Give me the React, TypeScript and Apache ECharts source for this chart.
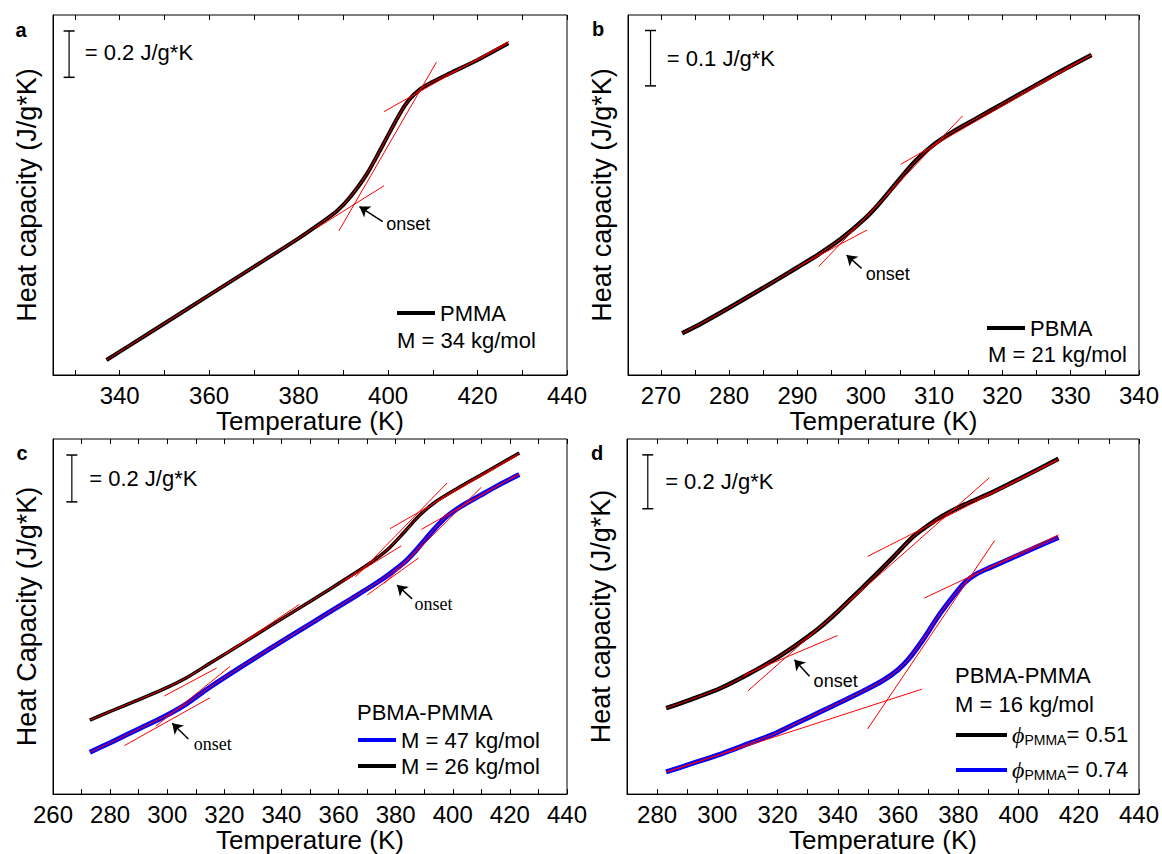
import React, { useEffect, useRef } from 'react';
import * as echarts from 'echarts';

const SANS = '"Liberation Sans", Arial, Helvetica, sans-serif';
const SERIF = '"Liberation Serif", "Times New Roman", serif';

// ---------- Panel a : PMMA, M = 34 kg/mol ----------
const aTemp = [337.06, 346.55, 360.0, 370.08, 380.0, 384.37, 388.57, 391.4, 395.2, 398.9, 402.6, 404.8, 407.06, 409.58, 413.78, 420.0, 426.89];
const aCp = [0.065, 0.18, 0.345, 0.468, 0.59, 0.648, 0.708, 0.765, 0.866, 0.995, 1.127, 1.19, 1.232, 1.262, 1.302, 1.36, 1.432];
const aTangents = [
  [383.9, 0.633, 399.1, 0.817],
  [389.0, 0.622, 410.8, 1.35],
  [399.1, 1.137, 427.0, 1.44],
];
const aArrows = [[398.8, 0.662, 393.6, 0.727]];
const aOnsets = [[399.5, 0.652]];
const aBar = [328.7, 1.285, 1.485];
const aBarLabel = [332.1, 1.393];
const aTicks = [330, 340, 350, 360, 370, 380, 390, 400, 410, 420, 430, 440];
const aLabels = [340, 360, 380, 400, 420, 440];

// ---------- Panel b : PBMA, M = 21 kg/mol ----------
const bTemp = [273.12, 276.13, 279.96, 284.34, 290.09, 293.1, 296.38, 299.67, 301.86, 304.59, 307.33, 310.07, 312.8, 316.09, 319.92, 324.84, 329.22, 333.05];
const bCp = [0.0753, 0.0945, 0.121, 0.1525, 0.195, 0.218, 0.246, 0.28, 0.308, 0.348, 0.387, 0.417, 0.4395, 0.4625, 0.489, 0.523, 0.553, 0.5779];
const bTangents = [
  [290.09, 0.1957, 300.21, 0.2619],
  [293.1, 0.1957, 314.17, 0.4678],
  [305.14, 0.3805, 333.05, 0.5779],
];
const bArrows = [[299.39, 0.1926, 297.2, 0.2167]];
const bOnsets = [[299.94, 0.1818]];
const bBar = [268.5, 0.522, 0.622];
const bBarLabel = [270.8, 0.572];
const bTicks = [270, 275, 280, 285, 290, 295, 300, 305, 310, 315, 320, 325, 330, 335, 340];
const bLabels = [270, 280, 290, 300, 310, 320, 330, 340];

// ---------- Panel c : PBMA-PMMA, M = 47 and 26 kg/mol ----------
const cTemp26 = [272.9, 280.41, 289.63, 298.85, 306.75, 314.65, 325.18, 335.72, 346.25, 355.47, 364.69, 372.59, 377.86, 383.12, 388.39, 393.66, 401.56, 410.78, 418.68, 423.29];
const cCp26 = [0.3154, 0.3548, 0.401, 0.449, 0.497, 0.556, 0.635, 0.715, 0.794, 0.864, 0.935, 1.0, 1.052, 1.12, 1.19, 1.245, 1.305, 1.369, 1.424, 1.456];
const cTemp47 = [272.9, 280.41, 289.63, 298.85, 306.75, 314.65, 325.18, 335.72, 346.25, 355.47, 364.69, 372.59, 377.86, 383.12, 387.07, 392.34, 397.61, 402.88, 409.46, 416.04, 423.29];
const cCp47 = [0.1788, 0.2215, 0.276, 0.33, 0.385, 0.454, 0.538, 0.619, 0.698, 0.767, 0.836, 0.896, 0.94, 0.99, 1.04, 1.115, 1.182, 1.228, 1.274, 1.319, 1.3644];
const cTangents = [
  [299.0, 0.419, 317.3, 0.538],
  [319.9, 0.595, 346.3, 0.81],
  [362.0, 0.91, 382.0, 1.06],
  [366.0, 0.928, 398.0, 1.328],
  [378.0, 1.133, 423.0, 1.448],
  [285.0, 0.207, 315.0, 0.4115],
  [296.0, 0.29, 322.0, 0.545],
  [370.0, 0.85, 388.0, 1.008],
  [376.0, 0.9, 410.0, 1.31],
  [389.0, 1.13, 423.0, 1.366],
];
const cArrows = [
  [307.41, 0.2351, 301.74, 0.3027],
  [385.75, 0.8335, 380.49, 0.8927],
];
const cOnsets = [[309.12, 0.214], [386.41, 0.8096]];
const cBar = [266.6, 1.2476, 1.4476];
const cBarLabel = [272.5, 1.347];
const cTicks = [260, 270, 280, 290, 300, 310, 320, 330, 340, 350, 360, 370, 380, 390, 400, 410, 420, 430, 440];
const cLabels = [260, 280, 300, 320, 340, 360, 380, 400, 420, 440];

// ---------- Panel d : PBMA-PMMA, M = 16 kg/mol ----------
const dTemp51 = [282.98, 291.44, 301.38, 310.08, 318.79, 326.25, 333.71, 339.92, 346.14, 352.35, 358.57, 364.78, 369.76, 374.73, 382.19, 390.89, 400.84, 413.27];
const dCp51 = [0.319, 0.3521, 0.3951, 0.4442, 0.4994, 0.5546, 0.616, 0.6773, 0.7448, 0.8123, 0.882, 0.9534, 0.9963, 1.0331, 1.0761, 1.119, 1.1742, 1.2454];
const dTemp74 = [282.98, 291.44, 301.38, 310.08, 318.79, 326.25, 333.71, 341.17, 348.63, 354.84, 359.81, 363.54, 368.51, 373.49, 378.46, 382.19, 385.92, 390.89, 398.35, 405.81, 413.27];
const dCp74 = [0.0822, 0.1129, 0.1497, 0.1865, 0.2233, 0.263, 0.303, 0.343, 0.384, 0.421, 0.46, 0.502, 0.577, 0.663, 0.737, 0.786, 0.817, 0.843, 0.8797, 0.9166, 0.9534];
const dTangents = [
  [308.8, 0.442, 339.9, 0.589],
  [310.1, 0.383, 390.3, 1.175],
  [349.9, 0.883, 413.0, 1.24],
  [283.0, 0.082, 368.0, 0.39],
  [349.9, 0.242, 392.1, 0.942],
  [368.7, 0.728, 413.3, 0.963],
];
const dArrows = [[330.6, 0.438, 325.6, 0.4994]];
const dOnsets = [[331.8, 0.4196]];
const dBar = [276.9, 1.06, 1.26];
const dBarLabel = [282.5, 1.162];
const dTicks = [280, 290, 300, 310, 320, 330, 340, 350, 360, 370, 380, 390, 400, 410, 420, 430, 440];
const dLabels = [280, 300, 320, 340, 360, 380, 400, 420, 440];

const zip = (xs: number[], ys: number[]) => xs.map((x, i) => [x, ys[i]]);

const GRIDS = [
  { left: 53, top: 15, width: 514, height: 360 },
  { left: 628, top: 15, width: 513, height: 360 },
  { left: 53, top: 439, width: 514, height: 359 },
  { left: 627, top: 439, width: 515, height: 359 },
];

type Curve = { name: string; temp: number[]; cp: number[]; color: string; width: number };
type Panel = {
  xmin: number; xmax: number; ymax: number; yName: string;
  ticks: number[]; labels: number[];
  curves: Curve[]; tangents: number[][]; arrows: number[][]; onsets: number[][];
  onsetFont: string; bar: number[]; barLabel: number[]; barText: string;
};

const PANELS: Panel[] = [
  {
    xmin: 325.1, xmax: 440, ymax: 1.554, yName: 'Heat capacity (J/g*K)', ticks: aTicks, labels: aLabels,
    curves: [{ name: 'PMMA', temp: aTemp, cp: aCp, color: '#000000', width: 4 }],
    tangents: aTangents, arrows: aArrows, onsets: aOnsets, onsetFont: SANS,
    bar: aBar, barLabel: aBarLabel, barText: '= 0.2 J/g*K',
  },
  {
    xmin: 265.2, xmax: 340, ymax: 0.65, yName: 'Heat capacity (J/g*K)', ticks: bTicks, labels: bLabels,
    curves: [{ name: 'PBMA', temp: bTemp, cp: bCp, color: '#000000', width: 4.5 }],
    tangents: bTangents, arrows: bArrows, onsets: bOnsets, onsetFont: SANS,
    bar: bBar, barLabel: bBarLabel, barText: '= 0.1 J/g*K',
  },
  {
    xmin: 260, xmax: 440, ymax: 1.516, yName: 'Heat Capacity (J/g*K)', ticks: cTicks, labels: cLabels,
    curves: [
      { name: 'M = 47 kg/mol', temp: cTemp47, cp: cCp47, color: '#0000ff', width: 5 },
      { name: 'M = 26 kg/mol', temp: cTemp26, cp: cCp26, color: '#000000', width: 3.5 },
    ],
    tangents: cTangents, arrows: cArrows, onsets: cOnsets, onsetFont: SERIF,
    bar: cBar, barLabel: cBarLabel, barText: '= 0.2 J/g*K',
  },
  {
    xmin: 270, xmax: 440, ymax: 1.319, yName: 'Heat capacity (J/g*K)', ticks: dTicks, labels: dLabels,
    curves: [
      { name: 'phi51', temp: dTemp51, cp: dCp51, color: '#000000', width: 4.5 },
      { name: 'phi74', temp: dTemp74, cp: dCp74, color: '#0000ff', width: 5 },
    ],
    tangents: dTangents, arrows: dArrows, onsets: dOnsets, onsetFont: SANS,
    bar: dBar, barLabel: dBarLabel, barText: '= 0.2 J/g*K',
  },
];

const PHI_LABELS: Record<string, string> = {
  phi51: '{p|ϕ}{s|PMMA}{t|= 0.51}',
  phi74: '{p|ϕ}{s|PMMA}{t|= 0.74}',
};

function buildOption() {
  const xAxis: any[] = [];
  const yAxis: any[] = [];
  const series: any[] = [];

  PANELS.forEach((p, i) => {
    xAxis.push({
      type: 'value', gridIndex: i, position: 'bottom', min: p.xmin, max: p.xmax,
      axisLine: { show: true, onZero: false, lineStyle: { color: '#000', width: 1 } },
      axisTick: { show: true, inside: true, length: 5, customValues: p.ticks, lineStyle: { color: '#000', width: 1 } },
      axisLabel: { show: true, customValues: p.labels, fontSize: 24, color: '#000', fontFamily: SANS, margin: 8 },
      splitLine: { show: false },
      name: 'Temperature (K)', nameLocation: 'middle', nameGap: 31,
      nameTextStyle: { fontSize: 26, color: '#000', fontFamily: SANS },
    });
    xAxis.push({
      type: 'value', gridIndex: i, position: 'top', min: p.xmin, max: p.xmax,
      axisLine: { show: false, onZero: false },
      axisTick: { show: true, inside: true, length: 5, customValues: p.ticks, lineStyle: { color: '#000', width: 1 } },
      axisLabel: { show: false }, splitLine: { show: false },
    });
    yAxis.push({
      type: 'value', gridIndex: i, min: 0, max: p.ymax,
      axisLine: { show: true, onZero: false, lineStyle: { color: '#000', width: 1 } },
      axisTick: { show: false }, axisLabel: { show: false }, splitLine: { show: false },
      name: p.yName, nameLocation: 'middle', nameGap: 13,
      nameTextStyle: { fontSize: 27, color: '#000', fontFamily: SANS },
    });

    const xi = i * 2;
    p.curves.forEach((c, k) => {
      series.push({
        type: 'line', name: c.name, xAxisIndex: xi, yAxisIndex: i,
        data: zip(c.temp, c.cp), symbol: 'none', showSymbol: false, smooth: 0.3,
        lineStyle: { color: c.color, width: c.width }, itemStyle: { color: c.color },
        silent: true, z: 2,
        markLine: k === 0 && p.arrows.length ? {
          silent: true, symbol: ['none', 'arrow'], symbolSize: 10,
          lineStyle: { color: '#000', width: 1.5, type: 'solid' }, label: { show: false },
          emphasis: { disabled: true },
          data: p.arrows.map((a) => [{ coord: [a[0], a[1]] }, { coord: [a[2], a[3]] }]),
        } : undefined,
      });
      series.push({
        type: 'line', name: `fit-${i}-${k}`, xAxisIndex: xi, yAxisIndex: i,
        data: zip(c.temp, c.cp), symbol: 'none', showSymbol: false, smooth: 0.3,
        lineStyle: { color: '#ff0000', width: 1 }, itemStyle: { color: '#ff0000' },
        silent: true, z: 3,
        markLine: k === 0 ? {
          silent: true, symbol: ['none', 'none'],
          lineStyle: { color: '#ff0000', width: 1, type: 'solid' }, label: { show: false },
          emphasis: { disabled: true },
          data: p.tangents.map((t) => [{ coord: [t[0], t[1]] }, { coord: [t[2], t[3]] }]),
        } : undefined,
      });
    });

    series.push({
      type: 'line', name: `bar-${i}`, xAxisIndex: xi, yAxisIndex: i,
      data: [[p.bar[0], p.bar[1]], [p.bar[0], p.bar[2]]],
      symbol: 'rect', symbolSize: [11, 1.5], showSymbol: true,
      lineStyle: { color: '#000', width: 1.2 }, itemStyle: { color: '#000' },
      silent: true, z: 4,
      markPoint: {
        silent: true, symbol: 'circle', symbolSize: 1, itemStyle: { color: 'rgba(0,0,0,0)' },
        label: { show: true, position: 'right', distance: 0, color: '#000', fontSize: 22, fontFamily: SANS },
        data: [
          { coord: p.barLabel, value: 0, label: { formatter: p.barText } },
          ...p.onsets.map((o) => ({
            coord: o, value: 0,
            label: { formatter: 'onset', fontSize: 18, fontFamily: p.onsetFont },
          })),
        ],
      },
    });
  });

  const legendCommon = {
    icon: 'rect', itemWidth: 38, itemHeight: 4, padding: 0, selectedMode: false,
    textStyle: { fontSize: 22, color: '#000', fontFamily: SANS },
  };

  return {
    animation: false,
    backgroundColor: '#ffffff',
    grid: GRIDS.map((g) => ({ ...g, show: true, borderColor: '#000', borderWidth: 1, backgroundColor: 'transparent', containLabel: false })),
    xAxis, yAxis, series,
    legend: [
      { ...legendCommon, left: 397, top: 302, data: ['PMMA'] },
      { ...legendCommon, left: 987, top: 317, data: ['PBMA'] },
      { ...legendCommon, left: 358, top: 729, orient: 'vertical', itemGap: 4, itemHeight: 4, data: ['M = 47 kg/mol', 'M = 26 kg/mol'] },
      {
        ...legendCommon, left: 956, top: 720, orient: 'vertical', itemGap: 8, itemWidth: 51,
        data: ['phi51', 'phi74'],
        formatter: (name: string) => PHI_LABELS[name] || name,
        textStyle: {
          fontSize: 22, color: '#000', fontFamily: SANS,
          rich: {
            p: { fontSize: 24, fontStyle: 'italic', fontFamily: SERIF, color: '#000', lineHeight: 24, verticalAlign: 'top' },
            s: { fontSize: 14, fontFamily: SANS, color: '#000', lineHeight: 14, padding: [13, 0, 0, 0], verticalAlign: 'bottom' },
            t: { fontSize: 22, fontFamily: SANS, color: '#000', lineHeight: 24, verticalAlign: 'top' },
          },
        },
      },
    ],
    graphic: [
      { type: 'text', x: 21, y: 30, style: { text: 'a', fontSize: 20, fontWeight: 'bold', fontFamily: SANS, fill: '#000', align: 'center', verticalAlign: 'middle' } },
      { type: 'text', x: 598, y: 29, style: { text: 'b', fontSize: 20, fontWeight: 'bold', fontFamily: SANS, fill: '#000', align: 'center', verticalAlign: 'middle' } },
      { type: 'text', x: 22, y: 453, style: { text: 'c', fontSize: 20, fontWeight: 'bold', fontFamily: SANS, fill: '#000', align: 'center', verticalAlign: 'middle' } },
      { type: 'text', x: 597, y: 453, style: { text: 'd', fontSize: 20, fontWeight: 'bold', fontFamily: SANS, fill: '#000', align: 'center', verticalAlign: 'middle' } },
      { type: 'text', x: 397, y: 340, style: { text: 'M = 34 kg/mol', fontSize: 22, fontFamily: SANS, fill: '#000', align: 'left', verticalAlign: 'middle' } },
      { type: 'text', x: 988, y: 354, style: { text: 'M = 21 kg/mol', fontSize: 22, fontFamily: SANS, fill: '#000', align: 'left', verticalAlign: 'middle' } },
      { type: 'text', x: 357, y: 712, style: { text: 'PBMA-PMMA', fontSize: 22, fontFamily: SANS, fill: '#000', align: 'left', verticalAlign: 'middle' } },
      { type: 'text', x: 955, y: 675, style: { text: 'PBMA-PMMA', fontSize: 22, fontFamily: SANS, fill: '#000', align: 'left', verticalAlign: 'middle' } },
      { type: 'text', x: 955, y: 704, style: { text: 'M = 16 kg/mol', fontSize: 22, fontFamily: SANS, fill: '#000', align: 'left', verticalAlign: 'middle' } },
    ],
  };
}

export default function App() {
  const ref = useRef<HTMLDivElement>(null);
  useEffect(() => {
    if (!ref.current) return;
    const chart = echarts.init(ref.current, undefined, { renderer: 'svg' });
    chart.setOption(buildOption() as any);
    return () => chart.dispose();
  }, []);
  return (
    <div
      ref={ref}
      style={{ position: 'fixed', left: 0, top: 0, width: 1162, height: 854, background: '#ffffff' }}
    />
  );
}
